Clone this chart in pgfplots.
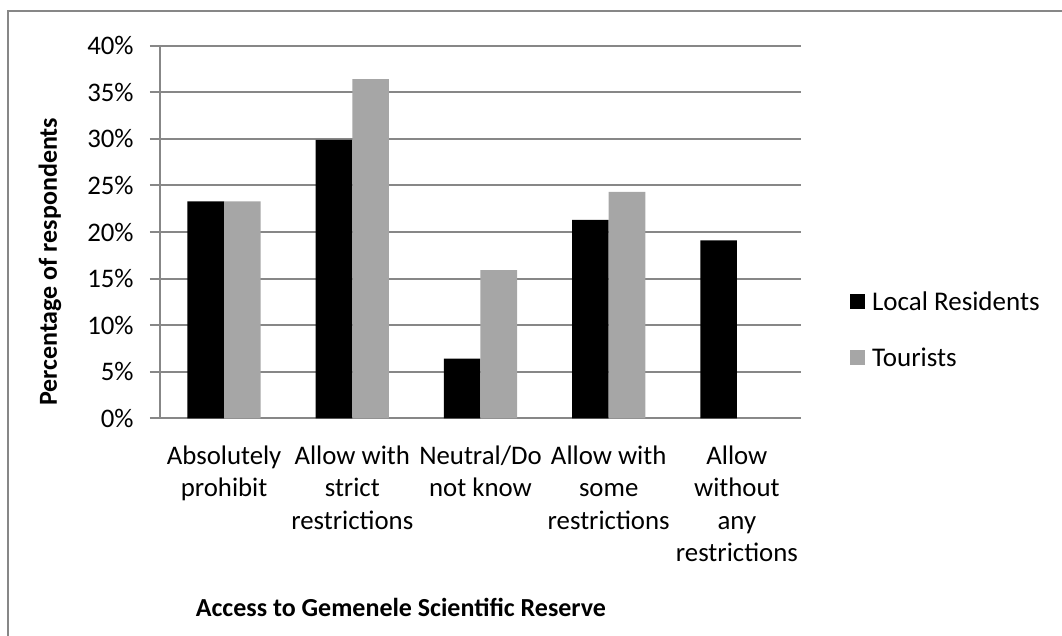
\documentclass[border=0pt]{standalone}
\usepackage{pgfplots}
\pgfplotsset{compat=1.18}
\usepackage{fontspec}
\setmainfont{Carlito}
\definecolor{gridgray}{HTML}{878787}
\definecolor{tourgray}{HTML}{A6A6A6}
\pgfplotsset{sqlegend/.style={legend image code/.code={\fill[##1] (0pt,-2pt) rectangle (7.5pt,5.5pt);}}}

\begin{document}
\begin{tikzpicture}
\useasboundingbox (0pt,0pt) rectangle (531pt,318pt);
\draw[gridgray, line width=1pt] (4pt,0pt) -- (4pt,312.5pt) -- (531pt,312.5pt);
\begin{axis}[
	at={(80pt,108.85pt)}, anchor=south west,
	scale only axis,
	width=320.5pt, height=186.3pt,
	xmin=-0.5, xmax=4.5, ymin=0, ymax=40,
	ybar=0pt, bar width=18.3pt,
	axis x line*=bottom, axis y line*=left,
	xtick={0,1,2,3,4},
	xticklabels={Absolutely\\prohibit, Allow with\\strict\\restrictions, Neutral/Do\\not know, Allow with\\some\\restrictions, Allow\\without\\any\\restrictions},
	xtick style={draw=none},
	ytick={0,5,10,15,20,25,30,35,40},
	yticklabels={0\%,5\%,10\%,15\%,20\%,25\%,30\%,35\%,40\%},
	tick align=outside, major tick length=5pt,
	ytick style={gridgray, line width=1pt},
	ymajorgrids, grid style={gridgray, line width=1pt},
	x axis line style={gridgray, line width=1pt},
	y axis line style={gridgray, line width=1.3pt},
	tick label style={font=\fontsize{13.4}{16.2}\selectfont},
	xticklabel style={align=center, anchor=north, inner sep=0pt, yshift=-8.5pt},
	yticklabel style={anchor=east, inner sep=0pt, xshift=-8pt},
	xlabel={Access to Gemenele Scientific Reserve},
	ylabel={Percentage of respondents},
	every axis x label/.style={at={(rel axis cs:0.376,-0.509)}, anchor=center, font=\bfseries\fontsize{13}{16}\selectfont},
	every axis y label/.style={at={(rel axis cs:-0.1716,0.42)}, rotate=90, anchor=center, font=\bfseries\fontsize{13}{16}\selectfont},
	legend style={at={(1.076,0.2295)}, anchor=west, draw=none, fill=none, inner sep=0pt, row sep=15.8pt,
		nodes={inner sep=0pt, text height=9pt, text depth=3pt, font=\fontsize{13.5}{16}\selectfont},
		/tikz/every odd column/.style={column sep=3.5pt}},
	legend cell align=left,
]
\addplot[fill=black, draw=none, sqlegend] coordinates {(0,23.3) (1,29.9) (2,6.4) (3,21.3) (4,19.1)};
\addplot[fill=tourgray, draw=none, sqlegend] coordinates {(0,23.3) (1,36.4) (2,15.9) (3,24.3) (4,0)};
\legend{Local Residents, Tourists}
\end{axis}
\end{tikzpicture}
\end{document}
